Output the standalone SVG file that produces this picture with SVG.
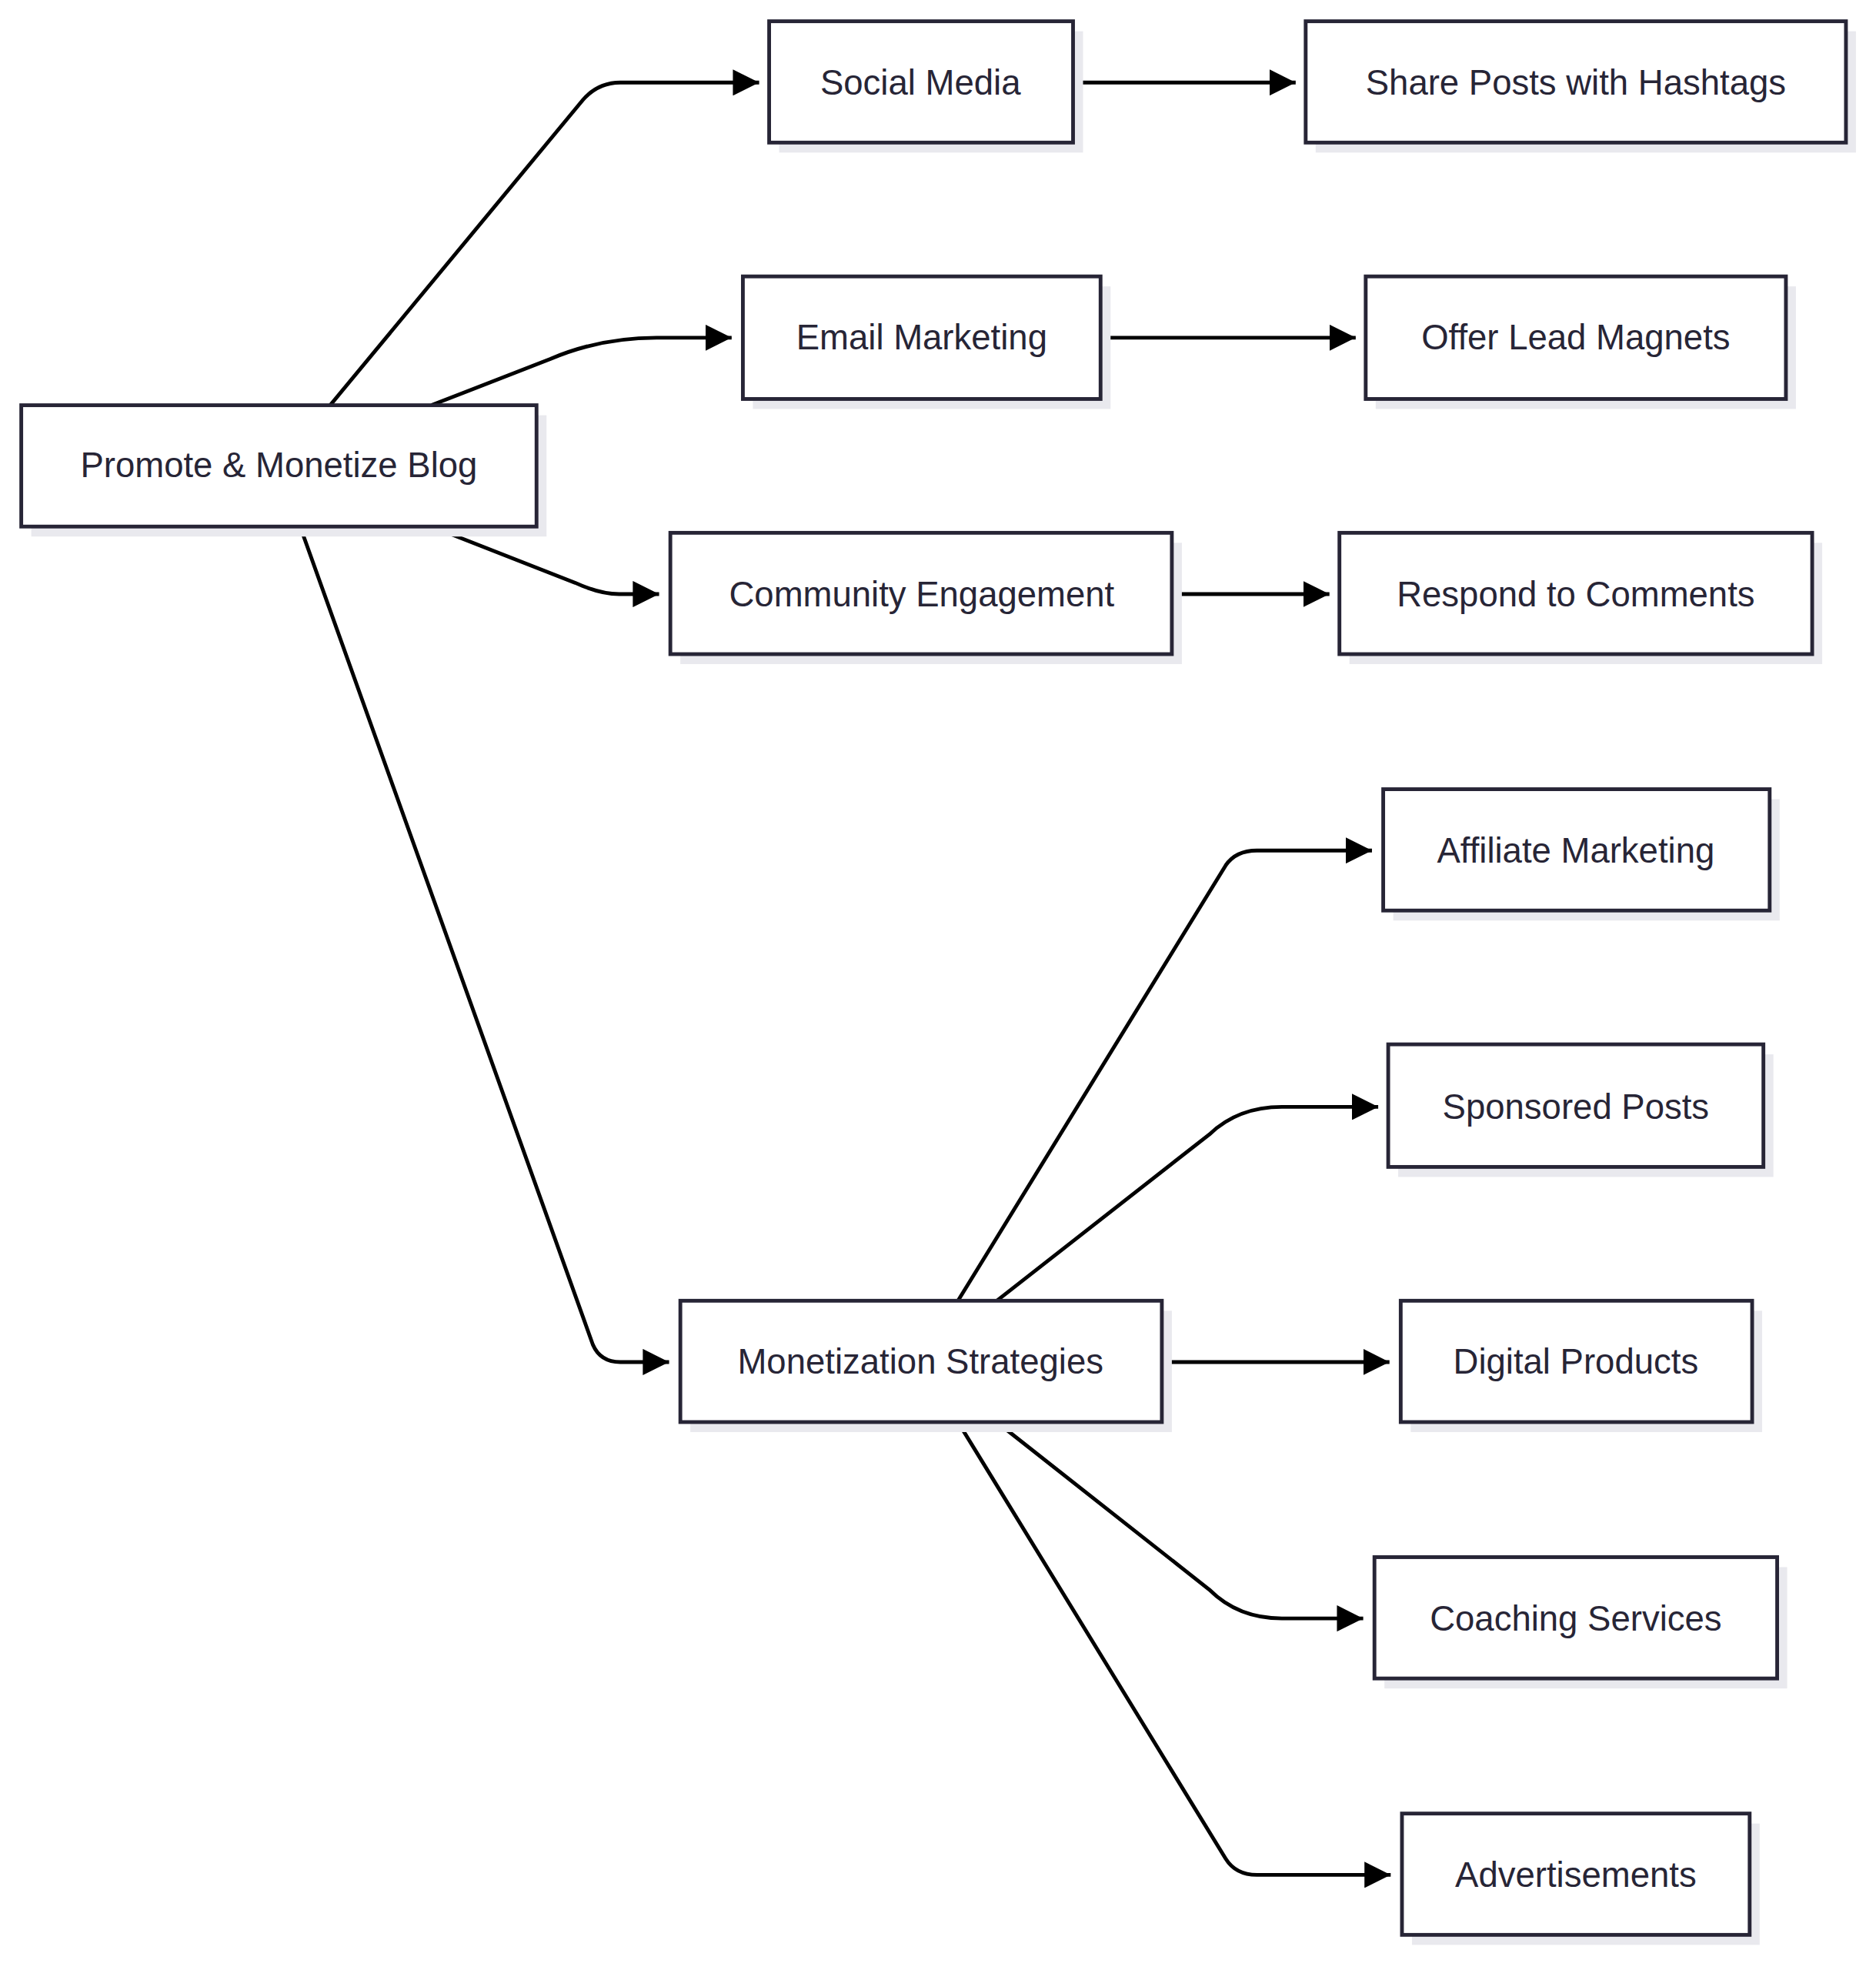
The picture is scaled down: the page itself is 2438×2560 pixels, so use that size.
<svg xmlns="http://www.w3.org/2000/svg" width="2438" height="2560" viewBox="0 0 2438 2560">
<style>
.sh{fill:#e9e9ee}
.bx{fill:#fff;stroke:#272536;stroke-width:3}
.t{font-family:"Liberation Sans",Arial,sans-serif;font-size:28px;fill:#272536;text-anchor:middle;dominant-baseline:central}
.e{fill:none;stroke:#000;stroke-width:3}
</style>
<defs>
<marker id="a" viewBox="0 0 10 10" refX="10" refY="5" markerWidth="7" markerHeight="7" orient="auto"><path d="M0,0L10,5L0,10z" fill="#000"/></marker>
</defs>
<rect width="2438" height="2560" fill="#fff"/>
<g transform="scale(1.6253)">
<g id="connectors">
<path class="e" marker-end="url(#a)" d="M264,324L466,80Q478,66 496,66L607,66"/>
<path class="e" marker-end="url(#a)" d="M345,324L440,287Q480,270 525,270L585,270"/>
<path class="e" marker-end="url(#a)" d="M345,421L460,466Q480,475 495,475L527,475"/>
<path class="e" marker-end="url(#a)" d="M240,421L474,1075Q480,1089 496,1089L535,1089"/>
<path class="e" marker-end="url(#a)" d="M766,1040L980,692Q988,680 1005,680L1097,680"/>
<path class="e" marker-end="url(#a)" d="M797,1040L967,907Q990,885 1025,885L1102,885"/>
<path class="e" marker-end="url(#a)" d="M929,1089L1111,1089"/>
<path class="e" marker-end="url(#a)" d="M797,1137L967,1271Q990,1294 1025,1294L1090,1294"/>
<path class="e" marker-end="url(#a)" d="M766,1137L980,1486Q988,1499 1005,1499L1112,1499"/>
<path class="e" marker-end="url(#a)" d="M858,66L1036,66"/>
<path class="e" marker-end="url(#a)" d="M880,270L1084,270"/>
<path class="e" marker-end="url(#a)" d="M937,475L1063,475"/>
</g>
<g id="n1"><rect class="sh" x="25" y="332" width="412" height="97"/><rect class="bx" x="17" y="324" width="412" height="97"/><text class="t" x="223" y="372">Promote &amp; Monetize Blog</text></g>
<g id="n2"><rect class="sh" x="623" y="25" width="243" height="97"/><rect class="bx" x="615" y="17" width="243" height="97"/><text class="t" x="736" y="66">Social Media</text></g>
<g id="n3"><rect class="sh" x="1052" y="25" width="432" height="97"/><rect class="bx" x="1044" y="17" width="432" height="97"/><text class="t" x="1260" y="66">Share Posts with Hashtags</text></g>
<g id="n4"><rect class="sh" x="602" y="229" width="286" height="98"/><rect class="bx" x="594" y="221" width="286" height="98"/><text class="t" x="737" y="270">Email Marketing</text></g>
<g id="n5"><rect class="sh" x="1100" y="229" width="336" height="98"/><rect class="bx" x="1092" y="221" width="336" height="98"/><text class="t" x="1260" y="270">Offer Lead Magnets</text></g>
<g id="n6"><rect class="sh" x="544" y="434" width="401" height="97"/><rect class="bx" x="536" y="426" width="401" height="97"/><text class="t" x="737" y="475">Community Engagement</text></g>
<g id="n7"><rect class="sh" x="1079" y="434" width="378" height="97"/><rect class="bx" x="1071" y="426" width="378" height="97"/><text class="t" x="1260" y="475">Respond to Comments</text></g>
<g id="n8"><rect class="sh" x="1114" y="639" width="309" height="97"/><rect class="bx" x="1106" y="631" width="309" height="97"/><text class="t" x="1260" y="680">Affiliate Marketing</text></g>
<g id="n9"><rect class="sh" x="1118" y="843" width="300" height="98"/><rect class="bx" x="1110" y="835" width="300" height="98"/><text class="t" x="1260" y="885">Sponsored Posts</text></g>
<g id="n10"><rect class="sh" x="552" y="1048" width="385" height="97"/><rect class="bx" x="544" y="1040" width="385" height="97"/><text class="t" x="736" y="1089">Monetization Strategies</text></g>
<g id="n11"><rect class="sh" x="1128" y="1048" width="281" height="97"/><rect class="bx" x="1120" y="1040" width="281" height="97"/><text class="t" x="1260" y="1089">Digital Products</text></g>
<g id="n12"><rect class="sh" x="1107" y="1253" width="322" height="97"/><rect class="bx" x="1099" y="1245" width="322" height="97"/><text class="t" x="1260" y="1294">Coaching Services</text></g>
<g id="n13"><rect class="sh" x="1129" y="1458" width="278" height="97"/><rect class="bx" x="1121" y="1450" width="278" height="97"/><text class="t" x="1260" y="1499">Advertisements</text></g>
</g>
</svg>
